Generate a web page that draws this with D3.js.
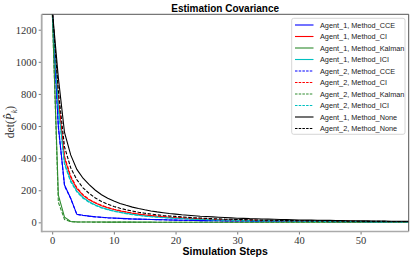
<!DOCTYPE html>
<html><head><meta charset="utf-8">
<script src="https://cdn.jsdelivr.net/npm/d3@7"></script>
<style>body{margin:0;background:#fff}svg{display:block}</style>
</head><body>
<script>
// ---- data ----
const steps = d3.range(0, 59); // simulation steps 0..58
const a1None = [1330,900,560,420,330,275,235,200,172,150,133,118,106,95,86,78,71,65,60,55,51,47,44,41,38,36,34,32,30,28,26,25,23,22,21,20,19,18,17,16,15,14,14,13,12,12,11,11,10,10,9,9,8,8,8,7,7,7,6];
const a2None = [1330,820,470,340,265,215,180,152,130,113,99,88,78,70,63,57,52,47,43,40,37,34,31,29,27,25,23,22,20,19,18,17,16,15,14,13,13,12,11,11,10,10,9,9,9,8,8,8,7,7,7,6,6,6,6,5,5,5,5];
const a1CI = [1330,760,400,280,210,168,140,120,104,91,80,71,64,57,51,46,42,38,35,32,29,27,25,23,21,20,18,17,16,15,14,13,12,12,11,10,10,9,9,8,8,8,7,7,7,6,6,6,6,5,5,5,5,5,4,4,4,4,4];
const a2CI = [1330,780,410,288,216,172,143,122,106,93,82,73,65,58,52,47,43,39,36,33,30,28,26,24,22,20,19,17,16,15,14,13,13,12,11,11,10,10,9,9,8,8,8,7,7,7,6,6,6,6,5,5,5,5,5,4,4,4,4];
const a1ICI = [1330,720,370,260,195,155,128,108,93,81,71,63,56,50,45,40,36,33,30,28,26,24,22,20,19,17,16,15,14,13,12,12,11,10,10,9,9,8,8,8,7,7,7,6,6,6,6,5,5,5,5,5,4,4,4,4,4,4,4];
const a2ICI = [1330,700,360,252,190,150,124,105,90,78,69,61,54,48,43,39,35,32,29,27,25,23,21,19,18,17,15,14,13,13,12,11,10,10,9,9,8,8,8,7,7,7,6,6,6,6,5,5,5,5,5,4,4,4,4,4,4,4,4];
const a1CCE = [1330,600,232,150,50,44,39,35,32,29,27,25,23,21,20,19,18,17,16,15,14,13,13,12,11,11,10,10,9,9,8,8,8,7,7,7,6,6,6,6,5,5,5,5,5,4,4,4,4,4,4,3,3,3,3,3,3,3,3];
const a2CCE = [1330,590,228,148,49,43,38,34,31,28,26,24,22,21,20,19,18,17,16,15,14,13,12,12,11,11,10,10,9,9,8,8,8,7,7,7,6,6,6,6,5,5,5,5,5,4,4,4,4,4,4,3,3,3,3,3,3,3,3];
const a1Kal = [1330,170,32,5,3,2.5,2,2,1.8,1.6,1.5,1.4,1.3,1.2,1.2,1.1,1.1,1,1,1,1,1,0.9,0.9,0.9,0.9,0.8,0.8,0.8,0.8,0.8,0.7,0.7,0.7,0.7,0.7,0.7,0.6,0.6,0.6,0.6,0.6,0.6,0.6,0.5,0.5,0.5,0.5,0.5,0.5,0.5,0.5,0.5,0.5,0.4,0.4,0.4,0.4,0.4];
const a2Kal = [1330,125,18,4,2.5,2,1.8,1.6,1.5,1.4,1.3,1.2,1.1,1.1,1,1,1,0.9,0.9,0.9,0.9,0.8,0.8,0.8,0.8,0.8,0.7,0.7,0.7,0.7,0.7,0.7,0.6,0.6,0.6,0.6,0.6,0.6,0.6,0.5,0.5,0.5,0.5,0.5,0.5,0.5,0.5,0.5,0.5,0.5,0.4,0.4,0.4,0.4,0.4,0.4,0.4,0.4,0.4];
const seriesNames = ["Agent_1, Method_CCE","Agent_1, Method_CI","Agent_1, Method_Kalman","Agent_1, Method_ICI",
  "Agent_2, Method_CCE","Agent_2, Method_CI","Agent_2, Method_Kalman","Agent_2, Method_ICI",
  "Agent_1, Method_None","Agent_2, Method_None"];
const seriesValues = [a1CCE,a1CI,a1Kal,a1ICI,a2CCE,a2CI,a2Kal,a2ICI,a1None,a2None];
const seriesColors = ["#0000ff","#ff0000","#2e8b2e","#00c0c0","#0000ff","#ff0000","#2e8b2e","#00c0c0","#000000","#000000"];
const seriesDashed = [false,false,false,false,true,true,true,true,false,true];
const xTicks = [0,10,20,30,40,50];
const yTicks = [0,200,400,600,800,1000,1200];
const titleText = "Estimation Covariance";
const xLabel = "Simulation Steps";

// ---- layout ----
const W = 415, H = 259;
const L = 41.7, R = 408.7, T = 14.3, B = 231.5;
const x = d3.scaleLinear().domain([-1.7, 57.8]).range([L, R]);
const y = d3.scaleLinear().domain([-57, 1296]).range([B, T]);

const svg = d3.select("body").append("svg").attr("width", W).attr("height", H);
svg.append("rect").attr("width", W).attr("height", H).attr("fill", "#fff");

svg.append("defs").append("clipPath").attr("id", "clip")
  .append("rect").attr("x", L).attr("y", T).attr("width", R - L).attr("height", B - T);

const line = d3.line().x((d, i) => x(steps[i])).y(d => y(d));
const g = svg.append("g").attr("clip-path", "url(#clip)");
seriesValues.forEach((vals, k) => {
  g.append("path").attr("d", line(vals)).attr("fill", "none")
    .attr("stroke", seriesColors[k]).attr("stroke-width", 1.1)
    .attr("stroke-dasharray", seriesDashed[k] ? "3.5,1.6" : null);
});

// axes
const serif = "'Liberation Serif', 'DejaVu Serif', serif";
const xAxis = svg.append("g").attr("transform", `translate(0,${B})`)
  .call(d3.axisBottom(x).tickValues(xTicks).tickSize(3).tickPadding(2).tickFormat(d3.format("d")));
const yAxis = svg.append("g").attr("transform", `translate(${L},0)`)
  .call(d3.axisLeft(y).tickValues(yTicks).tickSize(3).tickPadding(2).tickFormat(d3.format("d")));
[xAxis, yAxis].forEach(a => {
  a.select(".domain").remove();
  a.selectAll(".tick line").attr("stroke", "#555").attr("stroke-width", 0.8);
  a.selectAll(".tick text").attr("font-family", serif).attr("font-size", 10.5).attr("fill", "#333");
});

// spines
svg.append("line").attr("x1", L).attr("x2", R).attr("y1", T).attr("y2", T).attr("stroke", "#555").attr("stroke-width", 1);
svg.append("line").attr("x1", R).attr("x2", R).attr("y1", T).attr("y2", B).attr("stroke", "#555").attr("stroke-width", 1);
svg.append("line").attr("x1", L).attr("x2", L).attr("y1", T).attr("y2", B + 0.8).attr("stroke", "#aaa").attr("stroke-width", 1.8);
svg.append("line").attr("x1", L).attr("x2", R).attr("y1", B).attr("y2", B).attr("stroke", "#aaa").attr("stroke-width", 1.6);

// title and labels
svg.append("text").attr("x", (L + R) / 2).attr("y", 11.5).attr("text-anchor", "middle")
  .attr("font-family", "'Liberation Sans', Arial, sans-serif").attr("font-weight", "bold").attr("font-size", 10)
  .text(titleText);
svg.append("text").attr("x", (L + R) / 2).attr("y", 254.5).attr("text-anchor", "middle")
  .attr("font-family", "'Liberation Sans', Arial, sans-serif").attr("font-weight", "bold").attr("font-size", 10.5)
  .text(xLabel);
const yl = svg.append("text").attr("transform", `translate(14,122) rotate(-90)`)
  .attr("text-anchor", "middle").attr("font-family", serif).attr("font-size", 11.5).attr("fill", "#333");
yl.append("tspan").text("det(");
yl.append("tspan").attr("font-style", "italic").text("P\u0302");
yl.append("tspan").attr("font-style", "italic").attr("font-size", 8).attr("dy", 2.5).text("k");
yl.append("tspan").attr("dy", -2.5).text(")");

// legend
const lgX = 291.7, lgY = 18.3, lgW = 113.3, lgH = 116;
svg.append("rect").attr("x", lgX).attr("y", lgY).attr("width", lgW).attr("height", lgH)
  .attr("rx", 2).attr("fill", "#fff").attr("fill-opacity", 0.85).attr("stroke", "#ccc").attr("stroke-width", 0.8);
const rowH = 11.5;
const lg = svg.append("g");
seriesNames.forEach((name, k) => {
  const cy = 25 + k * rowH;
  lg.append("line").attr("x1", 295).attr("x2", 313.5).attr("y1", cy).attr("y2", cy)
    .attr("stroke", seriesColors[k]).attr("stroke-width", 1.1)
    .attr("stroke-dasharray", seriesDashed[k] ? "2.5,1.2" : null);
  lg.append("text").attr("x", 320).attr("y", cy + 2.5)
    .attr("font-family", "'Liberation Sans', Arial, sans-serif").attr("font-size", 7.3).attr("fill", "#222")
    .text(name);
});
</script>
</body></html>
